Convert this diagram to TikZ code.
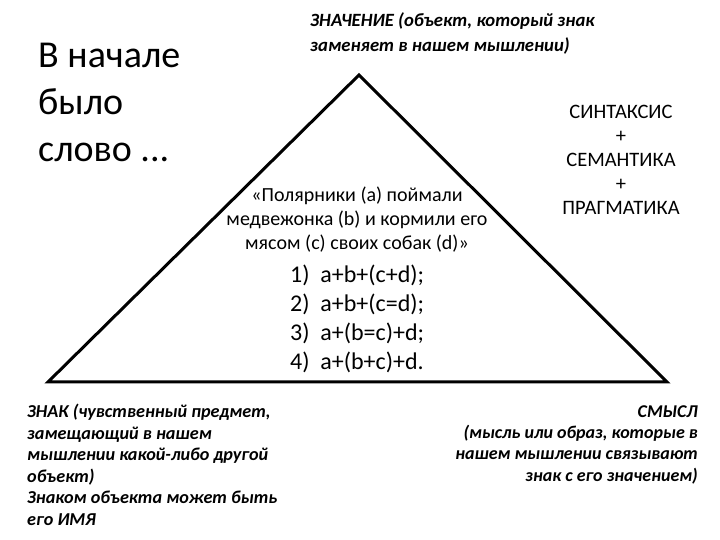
\documentclass[tikz,border=0pt]{standalone}
\usepackage{fontspec}
\setmainfont{Carlito}
\tikzset{
  tri/.style={line width=3pt, line join=miter},
  lbl/.style={inner sep=0pt, font=\bfseries\itshape\fontsize{18.2}{21.5}\selectfont},
  big/.style={inner sep=0pt, align=left, font=\fontsize{38}{47}\selectfont},
  mid/.style={inner sep=0pt, align=center, font=\fontsize{20}{24}\selectfont},
  lst/.style={inner sep=0pt, align=left, font=\fontsize{24}{29}\selectfont},
}
\begin{document}
\begin{tikzpicture}[x=1pt,y=1pt]
\useasboundingbox (0,0) rectangle (720,540);
\coordinate (top) at (359,465);
\coordinate (bl) at (48,158);
\coordinate (br) at (667,158);
\draw[tri] (top) -- (br) -- (bl) -- cycle;

\node[big, anchor=north west] (begin) at (38,497) {В начале\\было\\слово ...};

\node[lbl, anchor=north west, align=left, font=\bfseries\itshape\fontsize{18.7}{25}\selectfont] (meaning) at (310,528)
  {ЗНАЧЕНИЕ (объект, который знак\\заменяет в нашем мышлении)};

\node[mid, anchor=north, font=\fontsize{20.5}{24}\selectfont] (syn) at (621,435)
  {СИНТАКСИС\\+\\СЕМАНТИКА\\+\\ПРАГМАТИКА};

\node[mid, anchor=north] (quote) at (357,353)
  {«Полярники (a) поймали\\медвежонка (b) и кормили его\\мясом (c) своих собак (d)»};

\node[lst, anchor=north west] (list) at (290,275)
  {1)\hspace{0.45em}a+b+(c+d);\\2)\hspace{0.45em}a+b+(c=d);\\3)\hspace{0.45em}a+(b=c)+d;\\4)\hspace{0.45em}a+(b+c)+d.};

\node[lbl, anchor=north west, align=left] (sign) at (27,136)
  {ЗНАК (чувственный предмет,\\замещающий в нашем\\мышлении какой-либо другой\\объект)\\Знаком объекта может быть\\его ИМЯ};

\node[lbl, anchor=north east, align=right, font=\bfseries\itshape\fontsize{18}{21}\selectfont] (sense) at (698,134)
  {СМЫСЛ\\(мысль или образ, которые в\\нашем мышлении связывают\\знак с его значением)};
\end{tikzpicture}
\end{document}
